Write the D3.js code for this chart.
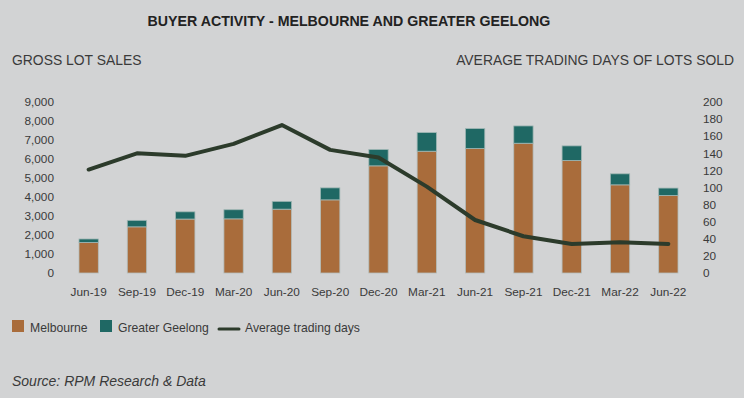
<!DOCTYPE html>
<html>
<head>
<meta charset="utf-8">
<script src="https://cdn.jsdelivr.net/npm/d3@7"></script>
<style>
  body { margin: 0; background: #d2d3d4; }
  svg { display: block; font-family: "Liberation Sans", Arial, sans-serif; }
</style>
</head>
<body>
<svg id="chart" width="744" height="398"></svg>
<script>
var quarters = ["Jun-19","Sep-19","Dec-19","Mar-20","Jun-20","Sep-20","Dec-20","Mar-21","Jun-21","Sep-21","Dec-21","Mar-22","Jun-22"];
var melbourne = [1610, 2430, 2840, 2850, 3360, 3850, 5640, 6410, 6550, 6830, 5920, 4640, 4080];
var geelong = [180, 340, 380, 480, 410, 630, 860, 980, 1050, 910, 770, 580, 390];
var tradingDays = [121, 140, 137, 151, 173, 144, 135, 101, 62, 43, 34, 36, 34];
var leftTicks = [0, 1000, 2000, 3000, 4000, 5000, 6000, 7000, 8000, 9000];
var rightTicks = [0, 20, 40, 60, 80, 100, 120, 140, 160, 180, 200];

var palette = {
  bg: "#d2d3d4",
  melb: "#a96c3b",
  geel: "#1f6864",
  line: "#2c3b2b",
  text: "#3a3a3a",
  title: "#222222"
}

var svg = d3.select("#chart")
svg.append("rect").attr("width", 744).attr("height", 398).attr("fill", palette.bg)

var x = d3.scaleBand().domain(quarters).range([64.5, 692.5]).paddingInner(0.6).paddingOuter(0.3)
var yL = d3.scaleLinear().domain([0, 9000]).range([273, 102])
var yR = d3.scaleLinear().domain([0, 200]).range([273, 102])

// titles
svg.append("text")
    .attr("x", 349).attr("y", 26)
    .attr("text-anchor", "middle")
    .attr("font-size", "14.2px")
    .attr("font-weight", "bold")
    .attr("fill", palette.title)
    .text("BUYER ACTIVITY - MELBOURNE AND GREATER GEELONG")

svg.append("text")
    .attr("x", 12).attr("y", 65)
    .attr("font-size", "13.9px")
    .attr("fill", palette.text)
    .text("GROSS LOT SALES")

svg.append("text")
    .attr("x", 734).attr("y", 65)
    .attr("text-anchor", "end")
    .attr("font-size", "13.9px")
    .attr("fill", palette.text)
    .text("AVERAGE TRADING DAYS OF LOTS SOLD")

// axes
var leftAxis = svg.append("g")
    .attr("transform", "translate(54,0)")
    .call(d3.axisLeft(yL).tickValues(leftTicks).tickSize(0).tickPadding(0).tickFormat(d3.format(",")))
var rightAxis = svg.append("g")
    .attr("transform", "translate(703,0)")
    .call(d3.axisRight(yR).tickValues(rightTicks).tickSize(0).tickPadding(0))
var bottomAxis = svg.append("g")
    .attr("transform", "translate(0,282)")
    .call(d3.axisBottom(x).tickSize(0).tickPadding(6))

;[leftAxis, rightAxis, bottomAxis].forEach(function(a){
  a.select(".domain").remove()
  a.selectAll("text")
      .attr("font-size", "11.8px")
      .attr("font-family", "Liberation Sans, Arial, sans-serif")
      .attr("fill", palette.text)
})

// stacked bars
var bars = svg.append("g")
bars.selectAll(".bar-m")
    .data(quarters)
    .enter().append("rect")
    .attr("class", "bar-m")
    .attr("x", function(d){ return x(d) })
    .attr("width", x.bandwidth())
    .attr("y", function(d, i){ return yL(melbourne[i]) })
    .attr("height", function(d, i){ return yL(0) - yL(melbourne[i]) })
    .attr("fill", palette.melb)
    .attr("stroke", "#b3bdbb")
    .attr("stroke-width", 0.8)

bars.selectAll(".bar-g")
    .data(quarters)
    .enter().append("rect")
    .attr("class", "bar-g")
    .attr("x", function(d){ return x(d) })
    .attr("width", x.bandwidth())
    .attr("y", function(d, i){ return yL(melbourne[i] + geelong[i]) })
    .attr("height", function(d, i){ return yL(melbourne[i]) - yL(melbourne[i] + geelong[i]) })
    .attr("fill", palette.geel)
    .attr("stroke", "#9fb6b3")
    .attr("stroke-width", 0.8)

// average trading days line
var line = d3.line()
    .x(function(d, i){ return x(quarters[i]) + x.bandwidth() / 2 })
    .y(function(d){ return yR(d) })

svg.append("path")
    .datum(tradingDays)
    .attr("d", line)
    .attr("fill", "none")
    .attr("stroke", palette.line)
    .attr("stroke-width", 4)
    .attr("stroke-linecap", "round")
    .attr("stroke-linejoin", "round")

// legend
var legend = svg.append("g").attr("font-size", "12.2px").attr("fill", palette.text)
legend.append("rect").attr("x", 12).attr("y", 320).attr("width", 12).attr("height", 12).attr("fill", palette.melb)
legend.append("text").attr("x", 30).attr("y", 332).text("Melbourne")
legend.append("rect").attr("x", 100).attr("y", 320).attr("width", 12).attr("height", 12).attr("fill", palette.geel)
legend.append("text").attr("x", 118).attr("y", 332).text("Greater Geelong")
legend.append("line").attr("x1", 219).attr("x2", 239).attr("y1", 329).attr("y2", 329)
    .attr("stroke", palette.line).attr("stroke-width", 3).attr("stroke-linecap", "round")
legend.append("text").attr("x", 245).attr("y", 332).text("Average trading days")

// source
svg.append("text")
    .attr("x", 12).attr("y", 386)
    .attr("font-size", "14px")
    .attr("font-style", "italic")
    .attr("fill", palette.text)
    .text("Source: RPM Research & Data")
</script>
</body>
</html>
